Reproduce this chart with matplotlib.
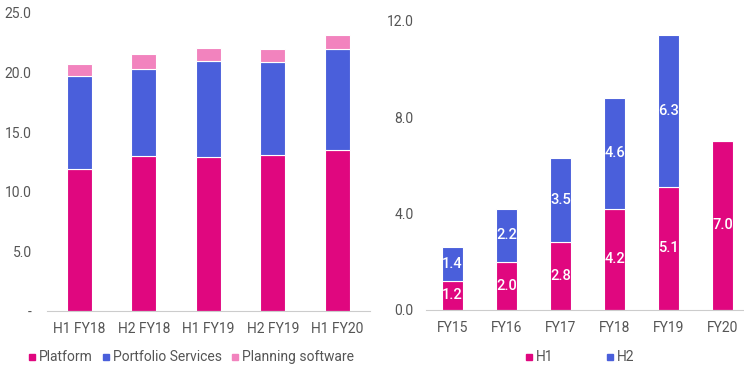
import matplotlib.pyplot as plt
import numpy as np
from matplotlib.lines import Line2D

plt.rcParams['font.family'] = ['Roboto', 'DejaVu Sans']

# left chart: revenue by segment per half year
periods = ['H1 FY18', 'H2 FY18', 'H1 FY19', 'H2 FY19', 'H1 FY20']
platform = [11.9, 13.0, 12.9, 13.05, 13.5]
portfolio = [7.85, 7.3, 8.1, 7.85, 8.5]
planning = [1.0, 1.25, 1.1, 1.1, 1.15]

# right chart: H1 / H2 by financial year
years = ['FY15', 'FY16', 'FY17', 'FY18', 'FY19', 'FY20']
h1 = [1.2, 2.0, 2.8, 4.2, 5.1, 7.0]
h2 = [1.4, 2.2, 3.5, 4.6, 6.3, 0.0]

c_mag = '#E0077F'
c_blue = '#4A5FDB'
c_pink = '#F283BE'
tick_col = '#555555'
fs = 10

fig = plt.figure(figsize=(7.44, 3.70), dpi=100)

# ---- left
ax1 = fig.add_axes([0.063, 0.1595, 0.434, 0.8055])
x = np.arange(len(periods))
w = 0.39
ax1.bar(x, platform, w, color=c_mag, edgecolor='white', linewidth=0.8)
ax1.bar(x, portfolio, w, bottom=platform, color=c_blue, edgecolor='white', linewidth=0.8)
bot2 = np.array(platform) + np.array(portfolio)
ax1.bar(x, planning, w, bottom=bot2, color=c_pink, edgecolor='white', linewidth=0.8)
ax1.set_xlim(-0.5, 4.5)
ax1.set_ylim(0, 25)
ax1.set_yticks([0, 5, 10, 15, 20, 25])
ax1.set_yticklabels(['-', '5.0', '10.0', '15.0', '20.0', '25.0'])
ax1.set_xticks(x)
ax1.set_xticklabels(periods)

# ---- right
ax2 = fig.add_axes([0.572, 0.163, 0.428, 0.781])
xr = np.arange(len(years))
wr = 0.39
ax2.bar(xr, h1, wr, color=c_mag, edgecolor='white', linewidth=0.8)
ax2.bar(xr, h2, wr, bottom=h1, color=c_blue, edgecolor='white', linewidth=0.8)
for i in range(len(years)):
    ax2.text(xr[i], h1[i] / 2, f'{h1[i]:.1f}', ha='center', va='center',
             color='white', fontsize=fs + 0.5, fontweight='medium')
    if h2[i] > 0:
        ax2.text(xr[i], h1[i] + h2[i] / 2, f'{h2[i]:.1f}', ha='center', va='center',
                 color='white', fontsize=fs + 0.5, fontweight='medium')
ax2.set_xlim(-0.5, 5.39)
ax2.set_ylim(0, 12)
ax2.set_yticks([0, 4, 8, 12])
ax2.set_yticklabels(['0.0', '4.0', '8.0', '12.0'])
ax2.set_xticks(xr)
ax2.set_xticklabels(years)

for ax in (ax1, ax2):
    for s in ('left', 'right', 'top'):
        ax.spines[s].set_visible(False)
    ax.spines['bottom'].set_color('#cccccc')
    ax.tick_params(length=0, labelsize=fs, colors=tick_col, pad=8)
ax1.tick_params(axis='y', pad=11)
ax2.tick_params(axis='y', pad=8.5)

def sq(c):
    return Line2D([], [], marker='s', color=c, linestyle='none', markersize=5)

fig.legend([sq(c_mag), sq(c_blue), sq(c_pink)],
           ['Platform', 'Portfolio Services', 'Planning software'],
           loc='center', bbox_to_anchor=(0.257, 0.034), ncol=3, frameon=False,
           fontsize=fs, handletextpad=0.3, columnspacing=0.75, labelcolor=tick_col,
           handlelength=0.4)
fig.legend([sq(c_mag), sq(c_blue)], ['H1', 'H2'],
           loc='center', bbox_to_anchor=(0.78, 0.034), ncol=2, frameon=False,
           fontsize=fs, handletextpad=0.3, columnspacing=3.9, labelcolor=tick_col,
           handlelength=0.4)

fig.savefig('out.png', dpi=100)
